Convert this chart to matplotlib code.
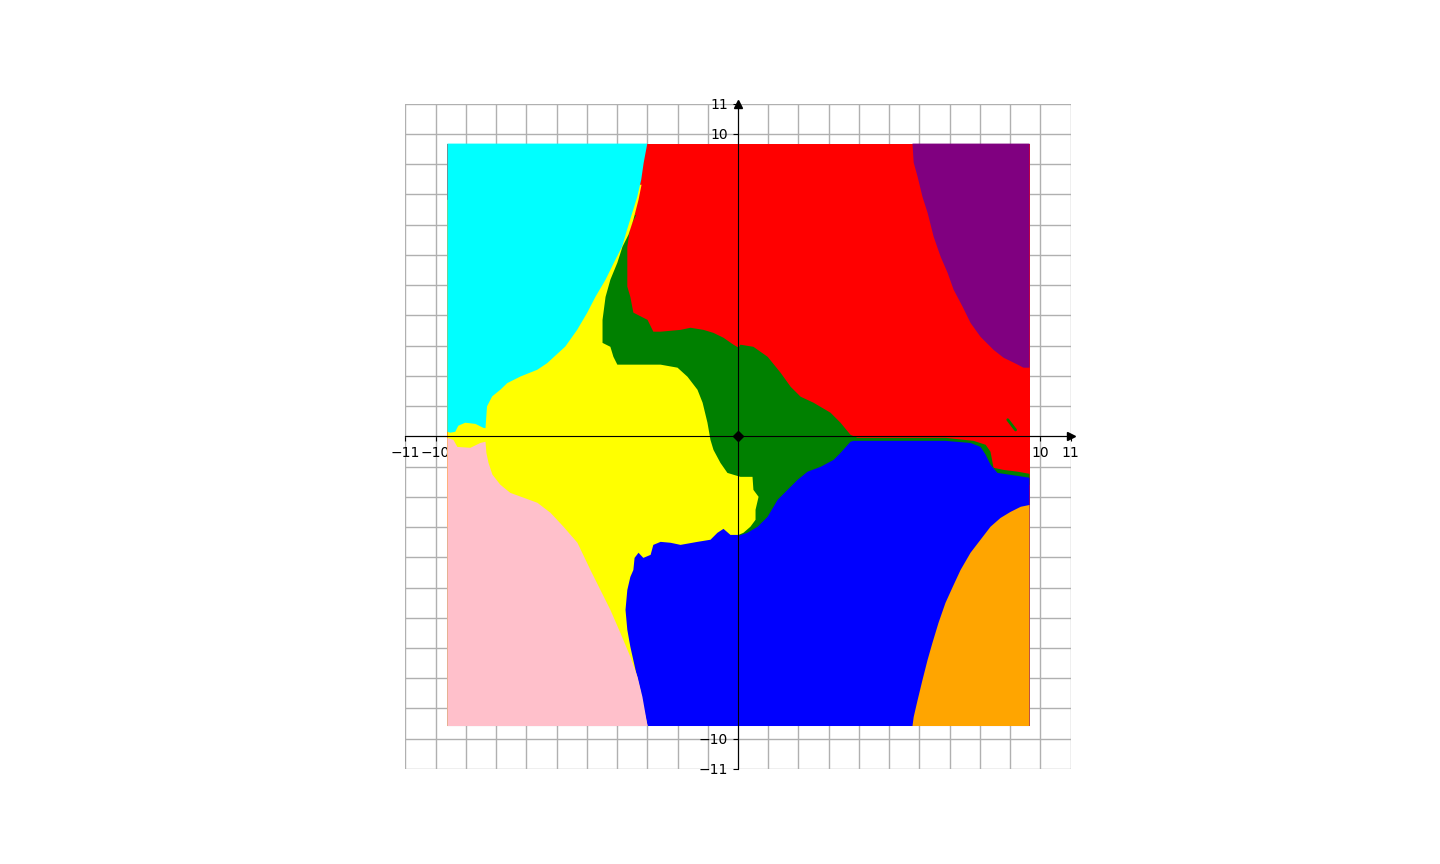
import matplotlib.pyplot as plt

# outer extent of the sampled square (data units)
box_x = [-9.61, 9.64, 9.64, -9.61]
box_y = [-9.58, -9.58, 9.68, 9.68]

# region outlines, drawn bottom to top over a red background
green_pts = [(-3.36, 7.33), (-3.56, 6.93), (-3.66, 6.27), (-3.66, 4.95), (-3.56, 4.61),
             (-3.46, 4.09), (-2.99, 3.85), (-2.80, 3.46), (-2.56, 3.46), (-1.90, 3.52),
             (-1.57, 3.59), (-1.14, 3.52), (-0.81, 3.42), (-0.48, 3.26), (-0.15, 3.03),
             (0.02, 2.93), (0.08, 3.03), (0.51, 2.96), (0.98, 2.63), (1.41, 2.10),
             (1.74, 1.64), (2.07, 1.31), (2.50, 1.11), (3.06, 0.78), (3.39, 0.45),
             (3.72, 0.05), (3.95, -0.05), (6.86, -0.05), (7.79, -0.15), (8.19, -0.28),
             (8.35, -0.51), (8.45, -1.04), (8.78, -1.11), (9.25, -1.17), (9.64, -1.24),
             (9.64, -1.60), (8.00, -1.60), (3.50, -1.00), (0.50, -4.00), (-1.20, -4.00),
             (-4.50, 1.00), (-4.50, 6.80)]

blue_pts = [(-9.61, -9.58), (9.64, -9.58), (9.64, -1.37), (9.25, -1.31), (8.58, -1.21),
            (8.35, -0.94), (8.19, -0.61), (8.02, -0.35), (7.69, -0.22), (6.86, -0.15),
            (3.82, -0.15), (3.72, -0.18), (3.39, -0.55), (3.16, -0.78), (2.73, -1.01),
            (2.30, -1.17), (1.97, -1.44), (1.64, -1.77), (1.31, -2.10), (0.98, -2.66),
            (0.65, -2.99), (0.31, -3.19), (0.02, -3.29), (-0.20, -3.00), (-9.61, -3.00)]

yellow_pts = [(-9.61, -9.58), (-9.61, 7.82), (-3.89, 8.32), (-3.19, 8.32), (-3.29, 7.82),
              (-3.46, 7.16), (-3.62, 6.67), (-3.82, 6.27), (-3.99, 5.74), (-4.22, 5.18),
              (-4.38, 4.61), (-4.48, 3.85), (-4.48, 3.09), (-4.22, 2.96), (-4.12, 2.63),
              (-3.99, 2.37), (-2.56, 2.37), (-2.00, 2.27), (-1.67, 1.97), (-1.34, 1.54),
              (-1.17, 1.11), (-1.01, 0.45), (-0.91, -0.12), (-0.81, -0.45), (-0.58, -0.88),
              (-0.35, -1.21), (0.08, -1.34), (0.48, -1.34), (0.51, -1.77), (0.68, -2.00),
              (0.58, -2.43), (0.58, -2.76), (0.41, -2.99), (0.18, -3.19), (0.02, -3.26),
              (-0.25, -3.26), (-0.48, -3.06), (-0.68, -3.19), (-0.91, -3.42), (-1.34, -3.49),
              (-1.90, -3.59), (-2.23, -3.52), (-2.56, -3.49), (-2.80, -3.59), (-2.89, -3.92),
              (-3.13, -4.02), (-3.29, -3.85), (-3.42, -4.02), (-3.46, -4.42), (-3.56, -4.65),
              (-3.66, -5.08), (-3.72, -5.74), (-3.66, -6.40), (-3.56, -6.96), (-3.39, -7.72),
              (-3.23, -8.39), (-3.13, -8.95), (-2.99, -9.58)]

cyan_pts = [(-9.61, 9.68), (-3.00, 9.68), (-3.12, 9.04), (-3.20, 8.49), (-3.33, 7.93),
            (-3.50, 7.38), (-3.67, 6.83), (-3.83, 6.28), (-4.11, 5.73), (-4.38, 5.18),
            (-4.71, 4.62), (-4.99, 4.08), (-5.32, 3.52), (-5.71, 2.97), (-6.31, 2.42),
            (-6.64, 2.20), (-7.19, 1.98), (-7.63, 1.76), (-7.86, 1.54), (-8.13, 1.32),
            (-8.30, 0.99), (-8.35, 0.27), (-8.42, 0.28), (-8.68, 0.41), (-9.02, 0.45),
            (-9.25, 0.35), (-9.35, 0.15), (-9.51, 0.12), (-9.61, 0.15)]

pink_pts = [(-9.61, -0.05), (-9.41, -0.12), (-9.28, -0.35), (-8.85, -0.38), (-8.52, -0.22),
            (-8.35, -0.18), (-8.32, -0.55), (-8.25, -0.88), (-8.12, -1.27), (-7.86, -1.60),
            (-7.53, -1.87), (-7.09, -2.03), (-6.63, -2.20), (-6.20, -2.53), (-5.77, -2.99),
            (-5.31, -3.52), (-4.88, -4.42), (-4.55, -5.08), (-4.22, -5.74), (-3.89, -6.50),
            (-3.56, -7.29), (-3.32, -7.96), (-3.16, -8.62), (-2.99, -9.58), (-9.61, -9.58)]

purple_pts = [(5.77, 9.68), (5.81, 9.05), (5.94, 8.58), (6.10, 7.92), (6.27, 7.39),
              (6.47, 6.60), (6.70, 5.94), (6.93, 5.41), (7.13, 4.85), (7.43, 4.28),
              (7.69, 3.75), (8.02, 3.29), (8.45, 2.86), (8.78, 2.60), (9.25, 2.37),
              (9.44, 2.27), (9.64, 2.27), (9.64, 9.68)]

orange_pts = [(9.64, -2.27), (9.35, -2.33), (9.01, -2.50), (8.68, -2.70), (8.35, -2.99),
              (8.02, -3.42), (7.69, -3.85), (7.36, -4.42), (7.10, -4.98), (6.86, -5.51),
              (6.63, -6.17), (6.43, -6.83), (6.27, -7.39), (6.10, -8.06), (5.94, -8.72),
              (5.81, -9.28), (5.77, -9.58), (9.64, -9.58)]

# small green streak inside the red area, right side
streak_x = [8.92, 9.18]
streak_y = [0.55, 0.21]

major_ticks = [-11, -10, 10, 11]
minor_ticks = list(range(-11, 12))

fig, ax = plt.subplots(figsize=(14.4, 8.64), dpi=100)

ax.fill(box_x, box_y, color='red', lw=0)
layers = [(green_pts, 'green'), (blue_pts, 'blue'), (yellow_pts, 'yellow'),
          (cyan_pts, 'cyan'), (pink_pts, 'pink'), (purple_pts, 'purple'),
          (orange_pts, 'orange')]
for pts, colour in layers:
    xs, ys = zip(*pts)
    ax.fill(xs, ys, color=colour, lw=0)
ax.plot(streak_x, streak_y, color='green', lw=2, solid_capstyle='round')

ax.set_xlim(-11, 11)
ax.set_ylim(-11, 11)
ax.set_aspect('equal')

# axes through the origin
ax.spines['left'].set_position(('data', 0))
ax.spines['bottom'].set_position(('data', 0))
ax.spines['top'].set_visible(False)
ax.spines['right'].set_visible(False)

ax.set_xticks(major_ticks)
ax.set_yticks(major_ticks)
ax.set_xticks(minor_ticks, minor=True)
ax.set_yticks(minor_ticks, minor=True)
ax.tick_params(which='minor', length=0)
ax.grid(True, which='both', color='#b0b0b0', lw=1)
ax.set_axisbelow(True)

# arrow heads and origin marker
ax.plot(1, 0, '>k', ms=6, transform=ax.get_yaxis_transform(), clip_on=False)
ax.plot(0, 1, '^k', ms=6, transform=ax.get_xaxis_transform(), clip_on=False)
ax.plot(0, 0, 'Dk', ms=5)

fig.savefig('out.png')
